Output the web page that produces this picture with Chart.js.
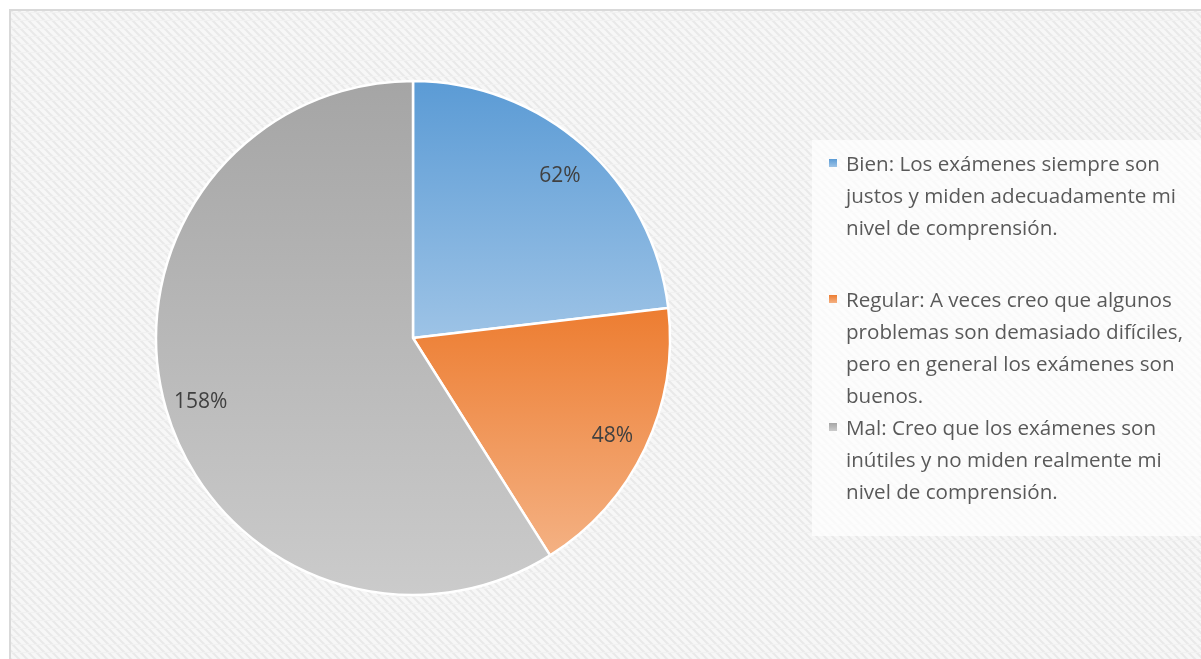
<!DOCTYPE html>
<html>
<head>
<meta charset="utf-8">
<script src="https://cdn.jsdelivr.net/npm/chart.js@4"></script>
<style>
  html, body { margin: 0; padding: 0; background: #ffffff; }
  #wrap { position: relative; width: 1201px; height: 659px; overflow: hidden; }
  #chart { position: absolute; left: 0; top: 0; }
  #legend {
    position: absolute; left: 812px; top: 140px; width: 400px; height: 396px;
    background: rgba(255,255,255,0.7);
    font-family: "Open Sans", "Noto Sans", sans-serif; font-size: 20.6px; color: #595959;
  }
  .item { position: absolute; left: 17px; width: 360px; line-height: 32px; padding-left: 17px; white-space: nowrap; }
  .item span.box { position: absolute; left: 0; top: 12px; width: 8px; height: 8px; }
</style>
</head>
<body>
<div id="wrap">
  <canvas id="chart" width="1201" height="659"></canvas>
  <div id="legend"></div>
</div>
<script>
// Datos del gráfico
const categorias = [
  ["Bien: Los exámenes siempre son", "justos y miden adecuadamente mi", "nivel de comprensión."],
  ["Regular: A veces creo que algunos", "problemas son demasiado difíciles,", "pero en general los exámenes son", "buenos."],
  ["Mal: Creo que los exámenes son", "inútiles y no miden realmente mi", "nivel de comprensión."]
];
const valores = [62, 48, 158];
const etiquetas = ["62%", "48%", "158%"];
const coloresArriba = ["#5b9bd5", "#ed7d31", "#a5a5a5"];
const coloresAbajo = ["#9dc3e6", "#f4b183", "#cbcbcb"];
const legendTops = [7, 143, 271];

// Fondo rayado
function makePattern() {
  const c = document.createElement("canvas");
  c.width = 8; c.height = 8;
  const g = c.getContext("2d");
  g.fillStyle = "#f7f7f7";
  g.fillRect(0, 0, 8, 8);
  g.strokeStyle = "#e9e9e9";
  g.lineWidth = 2;
  g.beginPath();
  g.moveTo(-2, -2); g.lineTo(10, 10);
  g.moveTo(-6, 2); g.lineTo(2, 10);
  g.moveTo(2, -6); g.lineTo(10, 2);
  g.stroke();
  g.strokeStyle = "#f1f1f1";
  g.lineWidth = 1;
  g.beginPath();
  g.moveTo(0, 4.5); g.lineTo(8, 4.5);
  g.stroke();
  return c;
}

const fondoPlugin = {
  id: "fondo",
  beforeDraw(chart) {
    const ctx = chart.ctx;
    ctx.save();
    ctx.fillStyle = ctx.createPattern(makePattern(), "repeat");
    ctx.fillRect(10, 10, chart.width - 10, chart.height - 10);
    ctx.strokeStyle = "#d9d9d9";
    ctx.lineWidth = 2;
    ctx.beginPath();
    ctx.moveTo(10, chart.height);
    ctx.lineTo(10, 10);
    ctx.lineTo(chart.width, 10);
    ctx.stroke();
    ctx.restore();
  }
};

// Degradado vertical por sector
function arcYRange(el) {
  const pts = [el.startAngle, el.endAngle];
  for (let k = -4; k <= 4; k++) {
    const a = k * Math.PI / 2;
    if (a > el.startAngle && a < el.endAngle) pts.push(a);
  }
  let ys = pts.map(a => el.y + Math.sin(a) * el.outerRadius);
  ys.push(el.y);
  return [Math.min(...ys), Math.max(...ys)];
}

const degradadoPlugin = {
  id: "degradado",
  beforeDatasetsDraw(chart) {
    const ctx = chart.ctx;
    chart.getDatasetMeta(0).data.forEach((el, i) => {
      const [y0, y1] = arcYRange(el);
      const g = ctx.createLinearGradient(0, y0, 0, y1);
      g.addColorStop(0, coloresArriba[i]);
      g.addColorStop(1, coloresAbajo[i]);
      el.options.backgroundColor = g;
    });
  }
};

const etiquetasPlugin = {
  id: "etiquetas",
  afterDatasetsDraw(chart) {
    const ctx = chart.ctx;
    ctx.save();
    ctx.font = '21px "Open Sans", "Noto Sans", sans-serif';
    ctx.fillStyle = "#404040";
    ctx.textAlign = "center";
    ctx.textBaseline = "middle";
    chart.getDatasetMeta(0).data.forEach((el, i) => {
      const mid = (el.startAngle + el.endAngle) / 2;
      const r = el.outerRadius * 0.86;
      ctx.fillText(etiquetas[i], el.x + Math.cos(mid) * r, el.y + Math.sin(mid) * r + 3);
    });
    ctx.restore();
  }
};

const ctx = document.getElementById("chart").getContext("2d");
new Chart(ctx, {
  type: "pie",
  data: {
    labels: categorias.map(c => c.join(" ")),
    datasets: [{
      data: valores,
      backgroundColor: coloresArriba,
      borderColor: "#ffffff",
      borderWidth: 2.5,
      hoverOffset: 0
    }]
  },
  options: {
    responsive: false,
    animation: false,
    radius: 257,
    layout: { padding: { left: 155, right: 530, top: 81, bottom: 64 } },
    plugins: {
      legend: { display: false },
      tooltip: { enabled: false }
    }
  },
  plugins: [fondoPlugin, degradadoPlugin, etiquetasPlugin]
});

// Leyenda en HTML
const legend = document.getElementById("legend");
categorias.forEach((lineas, i) => {
  const div = document.createElement("div");
  div.className = "item";
  div.style.top = legendTops[i] + "px";
  const box = document.createElement("span");
  box.className = "box";
  box.style.background = "linear-gradient(" + coloresArriba[i] + "," + coloresAbajo[i] + ")";
  div.appendChild(box);
  lineas.forEach((t, j) => {
    if (j > 0) div.appendChild(document.createElement("br"));
    div.appendChild(document.createTextNode(t));
  });
  legend.appendChild(div);
});
</script>
</body>
</html>
